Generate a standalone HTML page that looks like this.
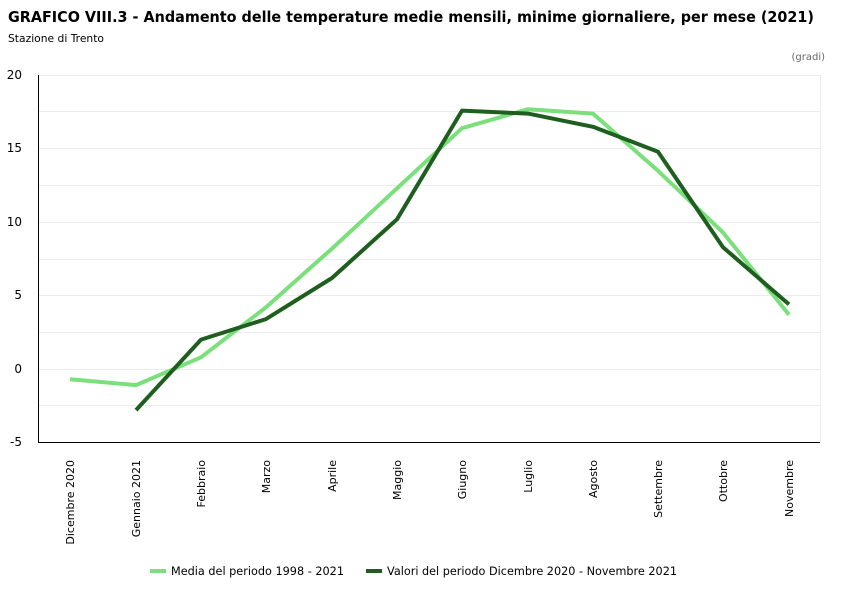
<!DOCTYPE html>
<html><head><meta charset="utf-8"><style>
body{margin:0;background:#fff;}
svg{display:block;font-family:"DejaVu Sans","Liberation Sans",sans-serif;}
</style></head><body>
<svg width="850" height="600" viewBox="0 0 850 600">
<text x="8" y="22" font-size="15.5" font-weight="bold" fill="#000" textLength="806" lengthAdjust="spacingAndGlyphs">GRAFICO VIII.3 - Andamento delle temperature medie mensili, minime giornaliere, per mese (2021)</text>
<text x="8" y="42" font-size="11" fill="#000" textLength="96" lengthAdjust="spacingAndGlyphs">Stazione di Trento</text>
<text x="825" y="60" font-size="10" fill="#666" text-anchor="end">(gradi)</text>
<g stroke="#ececec" stroke-width="1">
<line x1="38" x2="820" y1="75.5" y2="75.5"/><line x1="38" x2="820" y1="111.5" y2="111.5"/>
<line x1="38" x2="820" y1="148.5" y2="148.5"/><line x1="38" x2="820" y1="185.5" y2="185.5"/>
<line x1="38" x2="820" y1="222.5" y2="222.5"/><line x1="38" x2="820" y1="259.5" y2="259.5"/>
<line x1="38" x2="820" y1="295.5" y2="295.5"/><line x1="38" x2="820" y1="332.5" y2="332.5"/>
<line x1="38" x2="820" y1="369.5" y2="369.5"/><line x1="38" x2="820" y1="405.5" y2="405.5"/>
<line x1="820.5" x2="820.5" y1="75" y2="442"/>
</g>
<line x1="38.5" x2="38.5" y1="75" y2="442" stroke="#000"/>
<line x1="38" x2="820" y1="442.5" y2="442.5" stroke="#000"/>
<g font-size="12" fill="#000" text-anchor="end">
<text x="22" y="79">20</text><text x="22" y="152">15</text><text x="22" y="226">10</text>
<text x="22" y="299">5</text><text x="22" y="373">0</text><text x="22" y="446">-5</text>
</g>
<g font-size="11" fill="#000" text-anchor="end">
<text transform="translate(74,460) rotate(-90)">Dicembre 2020</text>
<text transform="translate(140,460) rotate(-90)">Gennaio 2021</text>
<text transform="translate(205,460) rotate(-90)">Febbraio</text>
<text transform="translate(270,460) rotate(-90)">Marzo</text>
<text transform="translate(336,460) rotate(-90)">Aprile</text>
<text transform="translate(401,460) rotate(-90)">Maggio</text>
<text transform="translate(466,460) rotate(-90)">Giugno</text>
<text transform="translate(532,460) rotate(-90)">Luglio</text>
<text transform="translate(597,460) rotate(-90)">Agosto</text>
<text transform="translate(662,460) rotate(-90)">Settembre</text>
<text transform="translate(727,460) rotate(-90)">Ottobre</text>
<text transform="translate(793,460) rotate(-90)">Novembre</text>
</g>
<polyline fill="none" stroke="#7be07b" stroke-width="4" stroke-linejoin="round" points="70,379.3 136,385.1 201,357.3 266,307.3 332,248.6 397,188.4 462,128.2 528,109.2 593,113.6 658,170.8 723,232.5 789,314.7"/>
<polyline fill="none" stroke="#1e5e1e" stroke-width="4" stroke-linejoin="round" points="136,410.1 201,339.6 266,319.1 332,278 397,219.3 462,110.6 528,113.6 593,126.8 658,151.7 723,247.2 789,304.4"/>
<line x1="150" x2="166" y1="571" y2="571" stroke="#7be07b" stroke-width="4"/>
<text x="171" y="575" font-size="11.5" fill="#000" textLength="173" lengthAdjust="spacingAndGlyphs">Media del periodo 1998 - 2021</text>
<line x1="366" x2="382" y1="571" y2="571" stroke="#1e5e1e" stroke-width="4"/>
<text x="387" y="575" font-size="11.5" fill="#000" textLength="290" lengthAdjust="spacingAndGlyphs">Valori del periodo Dicembre 2020 - Novembre 2021</text>
</svg>
</body></html>
